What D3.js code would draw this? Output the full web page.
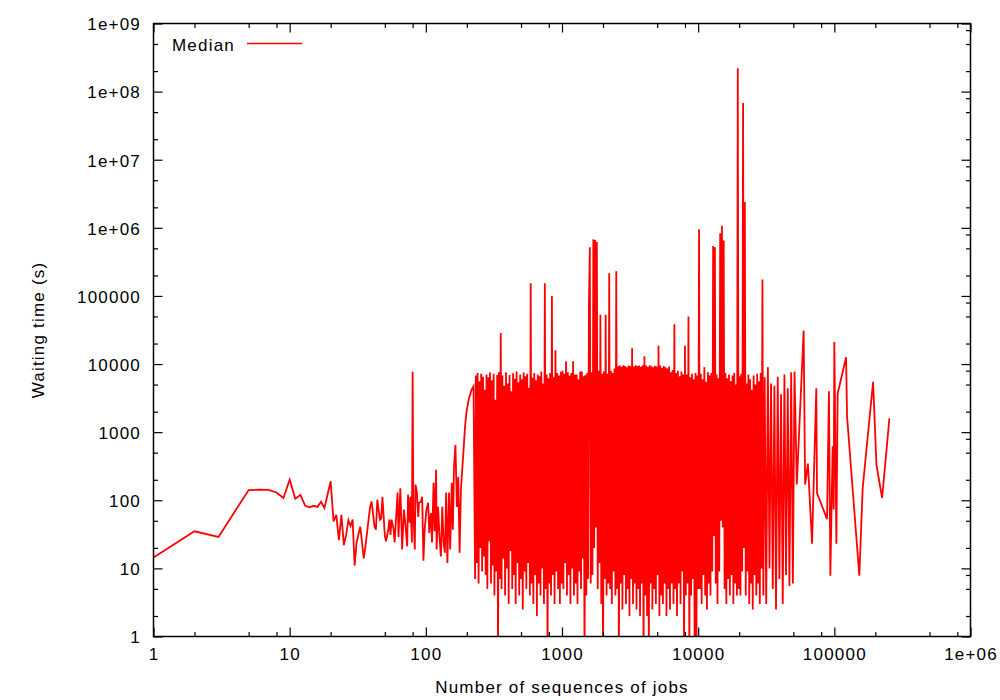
<!DOCTYPE html>
<html>
<head>
<meta charset="utf-8">
<script src="https://cdn.jsdelivr.net/npm/d3@7"></script>
<style>
  body { margin: 0; background: #fff; }
  text { font-family: "Liberation Sans", Arial, sans-serif; font-size: 17px; letter-spacing: 1.2px; fill: #000; }
</style>
</head>
<body>
<svg id="chart" width="1000" height="700"></svg>
<script>
// x = number of sequences of jobs, y = median waiting time (s)
const headX = [1,2,3,4,5,6,7,8,9,10,11,12,13,14,15,16,17,18,
  20,21,22,23,24,25,26,27,28,29,30,31,
  33,35,36,39,40,42,43,44,46,47,48,50,51,53,54,55,56,58,
  59,62,63,65,67,69,71,73,74,76,77,79,80,81,83,84,86,88,89,92,94,96,98,101,104,
  106,109,111,114,116,119,120,123,126,129,132,135,138,141,144,148,151,155,158,161,
  165,169,173,177,181,188,194,199,207,217,224];
const headY = [14.5,35,29,71,141,143,142,130,108,200,105,120,83,79,83,80,95,77,
  190,49,61,26,61,22,31,51,42,52,11,24,
  41,14,21,81,96,41,37,102,52,54,112,30,25,37,52,31,52,37,
  24,130,29,150,19,73,41,21,120,47,113,24,7700,65,19,170,130,57,92,95,113,13,37,73,92,
  33,65,24,180,35,280,19,80,29,15,80,24,17,130,12,130,19,180,37,310,
  650,80,220,17,143,450,1200,2000,3100,4200,4700];

const segAx = [230,233,237,240,244,248,251,255,259,263,
  267,271,275,279,283,288,292,296,301,305,
  310,315,319,324,329,334,339,344,349,355,
  360,365,371,376,382,388,394,400,406,412,
  418,424,431,437,444,450,457,464,471,478,
  485,493,500,508,515,523,531,539,547,555,
  564,572,581,589,598,607,616,626,635,645,
  654,664,674,684,695,705,716,726,737,748,
  760,771,783,794,806,818,831,843,856,869,
  882,895,909,922,936,950,965,979,994];
const segAy = [7,6800,12,7400,6,5600,20,7200,9,6500,
  15,4200,8,7000,5,6400,25,7500,6,5800,
  11,7200,4,3000,9,6900,0.4,7600,7,28600,
  5,6800,14,4800,4,7600,10,5200,3,6900,
  18,4000,5,7300,8,6100,3,7800,12,5400,
  4,7000,7,6000,2.5,7500,9,6600,5,7200,
  12,4500,4,153000,6,6300,3,7400,8,5800,
  2,7000,6,6600,4,7800,10,5200,3,153000,
  5,7000,0.4,6200,6,7400,4,100000,8,6400,
  3,16000,9,7400,5,6800,3,7700,6];

const segBx = [1009,1024,1039,1055,1071,1087,1103,1120,1136,1153,
  1171,1188,1206,1224,1243,1261,1280,1300,1319,1339,
  1359,1379,1400,1421,1442,1464,1486,1508,1531,1554,
  1577,1601,1625,1649,1674,1699,1724,1750,1777,1803,
  1830,1858,1886,1914,1943,1972,2002,2032,2062,2093,
  2125,2157,2189,2222,2255,2289,2323,2358,2394,2429,
  2466,2503,2540,2579,2617,2657,2696,2737,2778,2820,
  2862,2905,2949,2993,3038,3083,3130,3177,3224,3273,
  3322,3372,3422,3473,3525,3578,3632,3687,3742,3798,
  3855,3913,3971,4031,4091,4153,4215,4278,4343,4408,
  4474,4541,4609,4678,4748,4820,4892,4965,5040,5115,
  5192,5270,5349,5429,5511,5593,5677,5762,5849,5937,
  6026,6116,6208,6301,6396,6492,6589,6688,6788,6890,
  6993,7098,7205,7313,7423,7534,7647,7762,7878,7996,
  8116,8238,8362,8487,8614,8744,8875,9008,9143,9280,
  9419,9561,9704,9850,9998];
const segBy = [8000,5,7200,12,11000,4,7600,8,6800,3,
  7400,10,11000,4,7000,6,7000,3,6000,9,
  7800,5,7800,14,6600,0.4,6900,4,7400,7,
  73000,520000,6,7600,8,680000,20,660000,40,620000,
  5,8000,12,53000,3,7200,0.4,7800,7,53000,
  4,7200,6,215000,5,8000,3,7400,9,8600,
  4,230000,5,9300,0.4,9500,6,9100,2.5,9600,
  8,9400,3,9000,5,9500,2,9300,7,17000,
  3,9200,6,9600,2.5,9400,5,9500,2,9100,
  6,9600,0.4,13000,4,9500,2,9100,0.5,9600,
  6,9300,2.5,9000,5,9400,3,9200,8,18500,
  2,9500,4,8800,3,9400,6,9000,2,8600,
  5,9200,2.5,7600,6,8200,3,38500,5,7400,
  2,8000,6,6600,3,7800,9,7000,0.4,18500,
  4,7000,6,50000,0.4,6400,4,7200,7,6000,
  0.5,7400,0.4,6800,5];

const segCx = [10150,10300,10460,10610,10770,10930,11100,11260,11430,11600,
  11780,11950,12130,12310,12500,12690,12880,13070,13270,13470,
  13670,13870,14080,14290,14510,14730,14950,15170,15400,15630,
  15860,16100,16340,16590,16840,17090,17350,17610,17870,18140,
  18410,18690,18970,19250,19540,19840,20130,20440,20740,21050,
  21370,21690,22020,22350,22680,23020,23370,23720,24070,24430,
  24800,25170,25550,25930,26320,26720,27120,27530,27940,28360,
  28780,29210,29650,30100,
  30800,31600,32500,33400,34300,35300,36300,37300,38400,39500,
  40600,41800,43000,44200,45500,46800,48200,49600,51000];
const segCy = [950000,5,7200,3,6000,8,9000,4,5500,2.5,
  7600,6,6800,4,7400,9,540000,30,520000,6,
  7000,3,6200,9,830000,50,1070000,40,650000,5,
  7400,3,6200,7,7000,4,5600,8,6800,3,
  7400,6,5000,4,220000000,5,6600,4,7200,9,
  68000000,20,2400000,4,5200,9,7000,3,6000,6,
  4200,2.5,6800,8,5000,4,7200,6,5600,3,
  7400,10,175000,4,
  6400,3,9000,10,5200,5,4800,2.5,6500,7,
  3600,3,7000,8,4400,5.5,7600,6,7800];

const tailX = [53000,59500,61000,64000,68600,73700,74600,88400,91300,93500,97200,98900,
  100000,103500,105800,122000,124000,152600,161500,192600,203800,224400,253700];
const tailY = [170,31000,170,345,23,4400,128,53,4000,7.8,620,73,
  21000,23,3700,12600,1700,7.8,150,5500,330,108,1600];

const xTicks = [1,10,100,1000,10000,100000,1000000];
const xTickLabels = ["1","10","100","1000","10000","100000","1e+06"];
const yTicks = [1,10,100,1000,10000,100000,1e6,1e7,1e8,1e9];
const yTickLabels = ["1","10","100","1000","10000","100000","1e+06","1e+07","1e+08","1e+09"];
const xMinorSteps = [2,5,8];
const yMinorStepsLeft = [2,5];
const yMinorStepsRight = [2,5,8];

const seriesName = "Median";
const xTitle = "Number of sequences of jobs";
const yTitle = "Waiting time (s)";

const L = 153.5, R = 970.5, T = 23.5, B = 636.5;

const svg = d3.select("#chart");

const x = d3.scaleLog().domain([1, 1e6]).range([L, R]);
const y = d3.scaleLog().domain([1, 1e9]).range([B, T]);

function minors(majors, steps) {
  let out = [];
  majors.slice(0, -1).forEach(d => steps.forEach(s => out.push(d * s)));
  return out;
}

const pts = [];
function addSeg(xs, ys) { xs.forEach((v, i) => pts.push([v, ys[i]])); }
addSeg(headX, headY);
addSeg(segAx, segAy);
addSeg(segBx, segBy);
addSeg(segCx, segCy);
addSeg(tailX, tailY);

svg.append("defs").append("clipPath").attr("id", "plot")
  .append("rect").attr("x", L).attr("y", T).attr("width", R - L).attr("height", B - T);

const line = d3.line().x(d => x(d[0])).y(d => y(d[1]));

svg.append("path")
  .datum(pts)
  .attr("clip-path", "url(#plot)")
  .attr("fill", "none")
  .attr("stroke", "#ff0000")
  .attr("stroke-width", 1.8)
  .attr("stroke-linejoin", "miter")
  .attr("d", line);

// axes: ticks point inward on all four sides, gnuplot style
function axisG(gen, tx, ty) {
  return svg.append("g")
    .attr("transform", `translate(${tx},${ty})`)
    .call(gen)
    .call(g => g.select(".domain").remove())
    .call(g => g.selectAll(".tick line").attr("stroke-width", 1.2));
}

axisG(d3.axisBottom(x).tickValues(xTicks).tickSize(-9).tickPadding(11.5)
  .tickFormat(d => xTickLabels[xTicks.indexOf(d)]), 0, B);
axisG(d3.axisBottom(x).tickValues(minors(xTicks, xMinorSteps)).tickSize(-4.5).tickFormat(""), 0, B);
axisG(d3.axisTop(x).tickValues(xTicks).tickSize(-9).tickFormat(""), 0, T);
axisG(d3.axisTop(x).tickValues(minors(xTicks, xMinorSteps)).tickSize(-4.5).tickFormat(""), 0, T);

axisG(d3.axisLeft(y).tickValues(yTicks).tickSize(-9).tickPadding(12.5)
  .tickFormat(d => yTickLabels[yTicks.indexOf(d)]), L, 0)
  .selectAll("text").attr("dy", "0.37em");
axisG(d3.axisLeft(y).tickValues(minors(yTicks, yMinorStepsLeft)).tickSize(-4.5).tickFormat(""), L, 0);
axisG(d3.axisRight(y).tickValues(yTicks).tickSize(-9).tickFormat(""), R, 0);
axisG(d3.axisRight(y).tickValues(minors(yTicks, yMinorStepsRight)).tickSize(-4.5).tickFormat(""), R, 0);

svg.append("rect")
  .attr("x", L).attr("y", T).attr("width", R - L).attr("height", B - T)
  .attr("fill", "none").attr("stroke", "#000").attr("stroke-width", 1.5);

// titles
svg.append("text")
  .attr("x", (L + R) / 2).attr("y", 693)
  .attr("text-anchor", "middle")
  .text(xTitle);

svg.append("text")
  .attr("transform", `translate(44,${(T + B) / 2}) rotate(-90)`)
  .attr("text-anchor", "middle")
  .text(yTitle);

// legend
svg.append("text").attr("x", 172).attr("y", 50.5).text(seriesName);
svg.append("line")
  .attr("x1", 247).attr("x2", 302).attr("y1", 43.5).attr("y2", 43.5)
  .attr("stroke", "#ff0000").attr("stroke-width", 1.6);
</script>
</body>
</html>
